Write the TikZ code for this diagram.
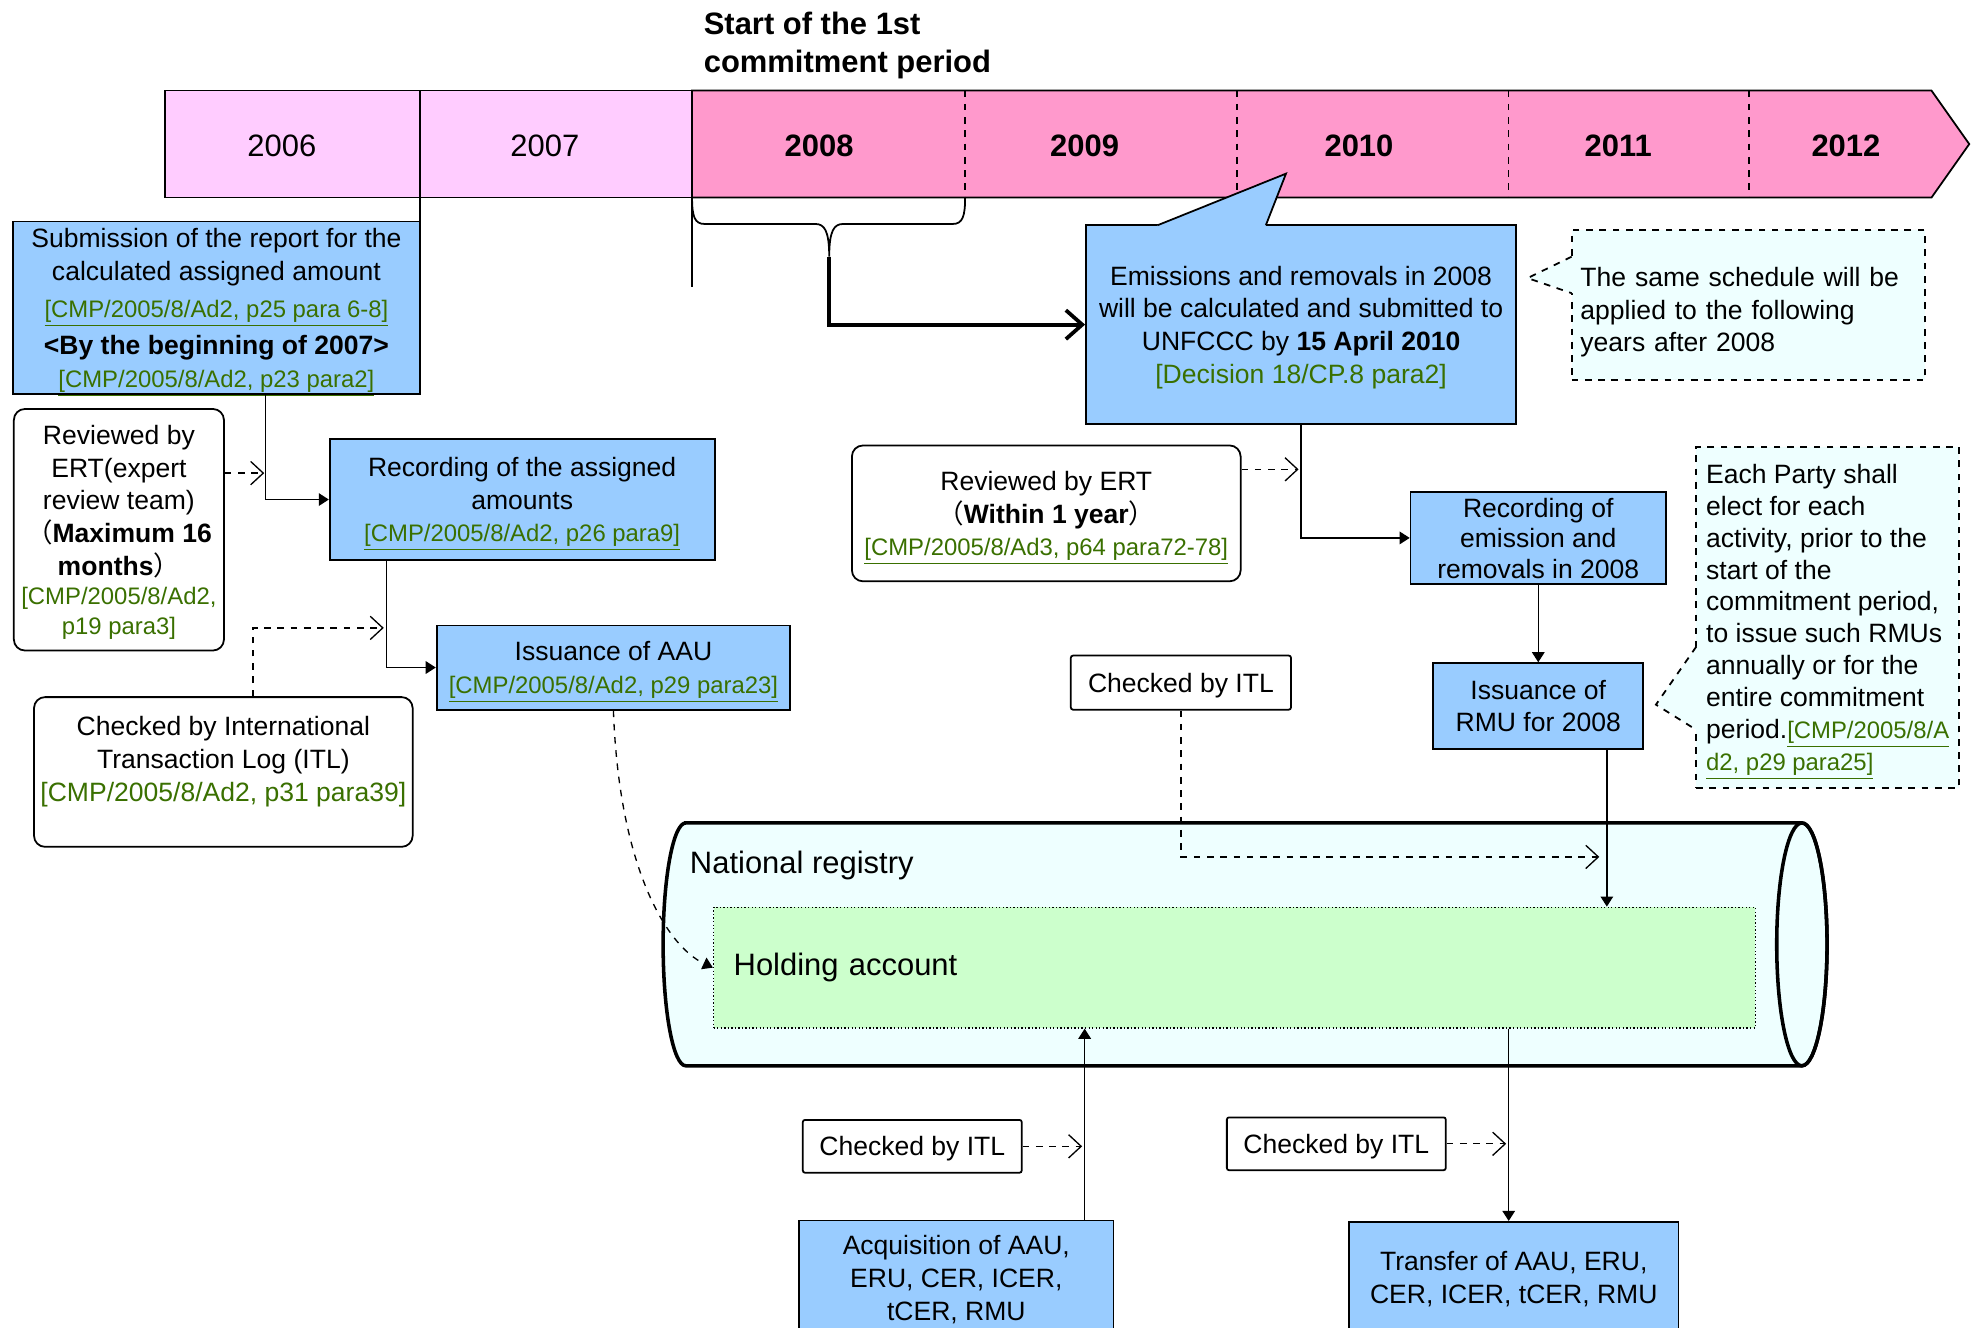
\documentclass[tikz,border=0pt]{standalone}
\usepackage{fontspec}
\setmainfont{Liberation Sans}
\newfontfamily\cjk{Noto Sans CJK JP}
\usepackage{tikz}
\usetikzlibrary{arrows.meta}
\definecolor{boxblue}{HTML}{99CCFF}
\definecolor{yearpale}{HTML}{FFCCFF}
\definecolor{yearpink}{HTML}{FF99CC}
\definecolor{notecyan}{HTML}{EEFFFF}
\definecolor{holdgreen}{HTML}{CCFFCC}
\definecolor{linkgreen}{HTML}{3A7000}
\newcommand\txtsize{\fontsize{12}{14.8}\selectfont}
\newcommand\notesize{\fontsize{12}{14.4}\selectfont}
\newcommand\refsize{\fontsize{10.8}{13}\selectfont}
\newcommand\bigsize{\fontsize{14}{17}\selectfont}
\newcommand\reflink[1]{{\refsize\color{linkgreen}\underline{#1}}}
\newcommand\refplain[1]{{\color{linkgreen}#1}}
\newcommand\refsmall[1]{{\refsize\color{linkgreen}#1}}
\tikzset{
  kp box/.style={draw,line width=0.8pt,fill=boxblue,align=center,inner sep=0pt,text depth=-1.5pt,font=\txtsize},
  kp note/.style={draw,line width=0.8pt,fill=white,rounded corners=5pt,align=center,inner sep=0pt,text depth=-1.5pt,font=\txtsize},
  kp check/.style={draw,line width=0.8pt,fill=white,rounded corners=1pt,inner sep=0pt,text depth=-1.5pt,font=\txtsize},
  kp memo/.style={draw,dashed,line width=0.8pt,fill=notecyan,align=left,text depth=-1.5pt,font=\txtsize},
  kp year/.style={font=\bigsize},
  kp flow/.style={line width=0.6pt,-{Triangle[length=1.6mm,width=2mm]}},
  kp review/.style={line width=0.6pt,dashed,-{Straight Barb[length=2mm,width=3.7mm]}},
  kp thick/.style={line width=1.7pt,-{Straight Barb[length=2.6mm,width=4.6mm]}}
}
\begin{document}
\begin{tikzpicture}[x=0.02cm,y=-0.02cm]
  \useasboundingbox (0,0) rectangle (1568,1055);
  \clip (0,0) rectangle (1568,1055);
  % time line
  \node[font=\bfseries\bigsize,align=left,anchor=west,inner sep=0pt] (start) at (559,36) {Start of the 1st\\commitment period};
  \filldraw[fill=yearpale,line width=0.8pt] (131,72) rectangle (334,157);
  \filldraw[fill=yearpale,line width=0.8pt] (334,72) rectangle (550,157);
  \filldraw[fill=yearpink,line width=0.8pt] (550,72) -- (1535,72) -- (1565,114.5) -- (1535,157) -- (550,157) -- cycle;
  \foreach \x in {767,983,1199,1390}{\draw[dashed,line width=0.6pt] (\x,72) -- (\x,157);}
  \node[kp year] (y2006) at (224,116) {2006};
  \node[kp year] (y2007) at (433,116) {2007};
  \foreach \yr/\x in {2008/651,2009/862,2010/1080,2011/1286,2012/1467}{\node[kp year,font=\bfseries\bigsize] (y\yr) at (\x,116) {\yr};}
  \draw[line width=0.8pt] (334,157) -- (334,204);
  \draw[line width=0.8pt] (550,157) -- (550,228);
  % brace under 2008
  \draw[line width=0.8pt] (550,157) .. controls (550,172) and (552,178) .. (560,178) -- (648,178)
    .. controls (655,178) and (659,183) .. (659,204) .. controls (659,183) and (663,178) .. (670,178)
    -- (757,178) .. controls (765,178) and (767,172) .. (767,157);
  \coordinate (brtip) at (659,204);
  % left column
  \node[kp box,minimum width=6.48cm,minimum height=2.74cm] (sub) at (172,244.5) {Submission of the report for the\\calculated assigned amount\\[2pt] \reflink{[CMP/2005/8/Ad2, p25 para 6-8]}\\[2pt] \textbf{<By the beginning of 2007>}\\ \reflink{[CMP/2005/8/Ad2, p23 para2]}};
  \node[kp note,minimum width=3.34cm,minimum height=3.84cm] (rev1) at (94.5,421) {Reviewed by\\ERT(expert\\review team)\\{\cjk（}\textbf{Maximum 16}\\\textbf{months}{\cjk）}\\[-1.5pt] \refsmall{[CMP/2005/8/Ad2,}\\[-1.5pt] \refsmall{p19 para3]}};
  \node[kp box,minimum width=6.12cm,minimum height=1.92cm] (recaa) at (415,397) {Recording of the assigned\\amounts\\ \reflink{[CMP/2005/8/Ad2, p26 para9]}};
  \node[kp box,minimum width=5.62cm,minimum height=1.34cm] (issaau) at (487.5,530.5) {Issuance of AAU\\ \reflink{[CMP/2005/8/Ad2, p29 para23]}};
  \node[kp note,minimum width=6.02cm,minimum height=2.38cm,text depth=12pt] (itl1) at (177.5,613.5) {Checked by International\\Transaction Log (ITL)\\ \refplain{[CMP/2005/8/Ad2, p31 para39]}};
  % right column
  \node[kp box,minimum width=6.84cm,minimum height=3.16cm] (emis) at (1034,258) {Emissions and removals in 2008\\will be calculated and submitted to\\UNFCCC by \textbf{15 April 2010}\\ \refplain{[Decision 18/CP.8 para2]}};
  \fill[boxblue] (920,180.5) -- (920,179) -- (1022,138) -- (1006,179) -- (1006,180.5) -- cycle;
  \draw[line width=0.8pt] (920,179) -- (1022,138) -- (1006,179);
  \node[kp memo,text width=5.34cm,minimum height=2.38cm,inner xsep=0.14cm,text depth=25.7pt] (same) at (1389.5,242.5) {The same schedule will be\\applied to the following\\years after 2008};
  \fill[notecyan] (1250.5,204) -- (1249,204) -- (1214,221) -- (1249,233) -- (1250.5,233) -- cycle;
  \draw[dashed,line width=0.8pt] (1249,204) -- (1214,221) -- (1249,233);
  \node[kp note,minimum width=6.18cm,minimum height=2.16cm] (rev2) at (831.5,408) {Reviewed by ERT\\{\cjk（}\textbf{Within 1 year}{\cjk）}\\ \reflink{[CMP/2005/8/Ad3, p64 para72-78]}};
  \node[kp box,minimum width=4.06cm,minimum height=1.46cm] (recrm) at (1222.5,427.5) {Recording of\\[-1pt] emission and\\[-1pt] removals in 2008};
  \node[kp box,minimum width=3.34cm,minimum height=1.36cm] (issrmu) at (1222.5,561) {Issuance of\\RMU for 2008};
  \node[kp memo,font=\notesize,minimum width=4.18cm,minimum height=5.42cm,inner sep=0pt,text depth=-3pt] (each) at (1452.5,490.5) {Each Party shall\\elect for each\\activity, prior to the\\start of the\\commitment period,\\to issue such RMUs\\annually or for the\\entire commitment\\period.\reflink{[CMP/2005/8/A}\\\reflink{d2, p29 para25]}};
  \fill[notecyan] (1349.5,514) -- (1348,514) -- (1316,560) -- (1348,580) -- (1349.5,580) -- cycle;
  \draw[dashed,line width=0.8pt] (1348,514) -- (1316,560) -- (1348,580);
  \node[kp check,minimum width=3.5cm,minimum height=0.86cm] (itl2) at (938.5,542.5) {Checked by ITL};
  % national registry
  \filldraw[fill=notecyan,line width=1.6pt] (545,654) -- (1432,654) arc[start angle=-90,end angle=90,x radius=20,y radius=96.5] -- (545,847) arc[start angle=90,end angle=270,x radius=18,y radius=96.5] -- cycle;
  \draw[line width=1.6pt] (1432,750.5) ellipse[x radius=20,y radius=96.5];
  \node[font=\bigsize,anchor=west,inner sep=0pt] (reg) at (548,688) {National registry};
  \node[draw,densely dotted,line width=0.6pt,fill=holdgreen,minimum width=16.56cm,minimum height=1.92cm,text width=15.92cm,inner xsep=0.32cm,font=\bigsize,align=left] (hold) at (981,769) {Holding account};
  % bottom row
  \node[kp check,minimum width=3.48cm,minimum height=0.84cm] (itl3) at (725,911) {Checked by ITL};
  \node[kp check,minimum width=3.48cm,minimum height=0.84cm] (itl4) at (1062,909) {Checked by ITL};
  \node[kp box,minimum width=5cm,minimum height=1.82cm] (acq) at (760,1015.5) {Acquisition of AAU,\\ERU, CER, ICER,\\tCER, RMU};
  \node[kp box,minimum width=5.24cm,minimum height=1.76cm] (trans) at (1203,1015) {Transfer of AAU, ERU,\\CER, ICER, tCER, RMU};
  % connectors
  \coordinate (j1) at (210,376);
  \coordinate (j2) at (305,499);
  \coordinate (j3) at (1032,373);
  \coordinate (j4) at (1271,681);
  \coordinate (j5) at (860,911);
  \coordinate (j6) at (1197,909);
  \draw[kp thick] (brtip) |- (emis.west);
  \draw[kp flow] (211,0 |- sub.south) |- (recaa.west);
  \draw[kp review] (rev1.east |- j1) -- (j1);
  \draw[kp flow] (307,0 |- recaa.south) |- (issaau.west);
  \draw[kp review] (201,0 |- itl1.north) |- (j2);
  \draw[kp review,-{Triangle[length=1.6mm,width=2mm]}] (issaau.south) .. controls (492,690) and (530,752) .. (hold.west);
  \draw[kp flow] (emis.south) |- (recrm.west);
  \draw[kp review] (rev2.east |- j3) -- (j3);
  \draw[kp flow] (recrm.south) -- (issrmu.north);
  \draw[kp flow] (1277,0 |- issrmu.south) -- (1277,0 |- hold.north);
  \draw[kp review] (itl2.south) |- (j4);
  \draw[kp flow] (862,0 |- acq.north) -- (862,0 |- hold.south);
  \draw[kp flow] (1199,0 |- hold.south) -- (1199,0 |- trans.north);
  \draw[kp review] (itl3.east) -- (j5);
  \draw[kp review] (itl4.east) -- (j6);
\end{tikzpicture}
\end{document}
